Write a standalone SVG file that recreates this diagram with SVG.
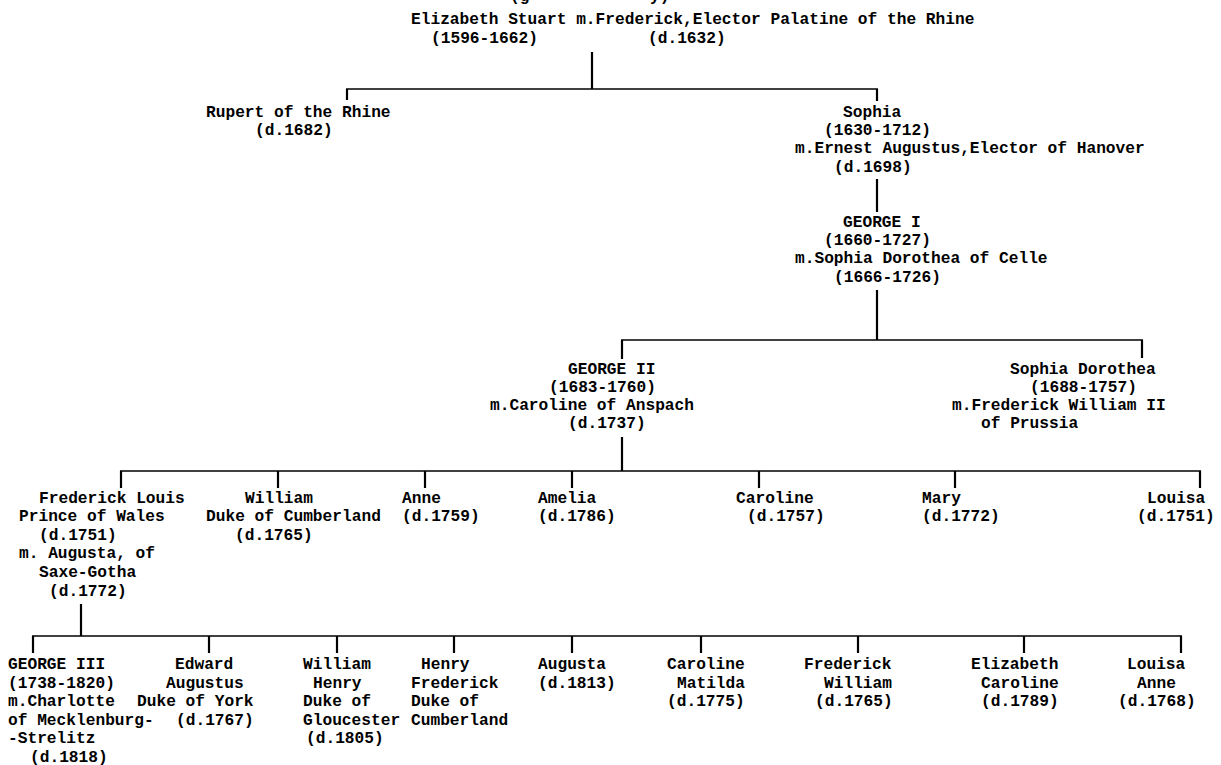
<svg xmlns="http://www.w3.org/2000/svg" width="1221" height="765" viewBox="0 0 1221 765">
<style>
text{font-family:"Liberation Mono","DejaVu Sans Mono",monospace;font-weight:bold;font-size:16.2px;fill:#000;white-space:pre}
.c line{stroke:#000;stroke-width:2.2}
.c line.h{stroke-width:1.6}
</style>
<rect width="1221" height="765" fill="#fff"/>
<g id="connectors" class="c">
<line x1="592" y1="52" x2="592" y2="89"/>
<line class="h" x1="346" y1="89" x2="878" y2="89"/>
<line x1="347" y1="89" x2="347" y2="100"/>
<line x1="877" y1="89" x2="877" y2="101"/>
<line x1="877" y1="179" x2="877" y2="212"/>
<line x1="877" y1="290" x2="877" y2="340"/>
<line class="h" x1="621" y1="340" x2="1143" y2="340"/>
<line x1="622" y1="340" x2="622" y2="359"/>
<line x1="1142" y1="340" x2="1142" y2="358"/>
<line x1="622" y1="437" x2="622" y2="471"/>
<line class="h" x1="120" y1="471" x2="1201" y2="471"/>
<line x1="121" y1="471" x2="121" y2="488"/>
<line x1="278" y1="471" x2="278" y2="488"/>
<line x1="425" y1="471" x2="425" y2="488"/>
<line x1="572" y1="471" x2="572" y2="488"/>
<line x1="759" y1="471" x2="759" y2="488"/>
<line x1="955" y1="471" x2="955" y2="488"/>
<line x1="1200" y1="471" x2="1200" y2="488"/>
<line x1="81" y1="604" x2="81" y2="636"/>
<line class="h" x1="32" y1="636" x2="1182" y2="636"/>
<line x1="33" y1="636" x2="33" y2="653"/>
<line x1="209" y1="636" x2="209" y2="653"/>
<line x1="337" y1="636" x2="337" y2="653"/>
<line x1="454" y1="636" x2="454" y2="653"/>
<line x1="572" y1="636" x2="572" y2="653"/>
<line x1="701" y1="636" x2="701" y2="653"/>
<line x1="858" y1="636" x2="858" y2="653"/>
<line x1="1024" y1="636" x2="1024" y2="653"/>
<line x1="1181" y1="636" x2="1181" y2="653"/>
</g>
<g id="top-fragment">
<text x="510" y="1">(g</text>
<text x="650" y="1">y)</text>
</g>
<g id="elizabeth">
<text x="411" y="24">Elizabeth Stuart m.Frederick,Elector Palatine of the Rhine</text>
<text x="431" y="43">(1596-1662)</text>
<text x="648" y="43">(d.1632)</text>
</g>
<g id="rupert">
<text x="206" y="117">Rupert of the Rhine</text>
<text x="255" y="135">(d.1682)</text>
</g>
<g id="sophia">
<text x="843" y="117">Sophia</text>
<text x="824" y="135">(1630-1712)</text>
<text x="795" y="153">m.Ernest Augustus,Elector of Hanover</text>
<text x="834" y="172">(d.1698)</text>
</g>
<g id="george1">
<text x="843" y="227">GEORGE I</text>
<text x="824" y="245">(1660-1727)</text>
<text x="795" y="263">m.Sophia Dorothea of Celle</text>
<text x="834" y="282">(1666-1726)</text>
</g>
<g id="george2">
<text x="568" y="374">GEORGE II</text>
<text x="549" y="392">(1683-1760)</text>
<text x="490" y="410">m.Caroline of Anspach</text>
<text x="568" y="428">(d.1737)</text>
</g>
<g id="sophia-dorothea">
<text x="1010" y="374">Sophia Dorothea</text>
<text x="1030" y="392">(1688-1757)</text>
<text x="952" y="410">m.Frederick William II</text>
<text x="981" y="428">of Prussia</text>
</g>
<g id="frederick-louis">
<text x="39" y="503">Frederick Louis</text>
<text x="19" y="521">Prince of Wales</text>
<text x="39" y="540">(d.1751)</text>
<text x="19" y="558">m. Augusta, of</text>
<text x="39" y="577">Saxe-Gotha</text>
<text x="49" y="596">(d.1772)</text>
</g>
<g id="william-cumberland">
<text x="245" y="503">William</text>
<text x="206" y="521">Duke of Cumberland</text>
<text x="235" y="540">(d.1765)</text>
</g>
<g id="anne">
<text x="402" y="503">Anne</text>
<text x="402" y="521">(d.1759)</text>
</g>
<g id="amelia">
<text x="538" y="503">Amelia</text>
<text x="538" y="521">(d.1786)</text>
</g>
<g id="caroline">
<text x="736" y="503">Caroline</text>
<text x="747" y="521">(d.1757)</text>
</g>
<g id="mary">
<text x="922" y="503">Mary</text>
<text x="922" y="521">(d.1772)</text>
</g>
<g id="louisa">
<text x="1147" y="503">Louisa</text>
<text x="1137" y="521">(d.1751)</text>
</g>
<g id="george3">
<text x="8" y="669">GEORGE III</text>
<text x="8" y="688">(1738-1820)</text>
<text x="8" y="706">m.Charlotte</text>
<text x="8" y="725">of Mecklenburg-</text>
<text x="8" y="743">-Strelitz</text>
<text x="30" y="762">(d.1818)</text>
</g>
<g id="edward">
<text x="175" y="669">Edward</text>
<text x="166" y="688">Augustus</text>
<text x="137" y="706">Duke of York</text>
<text x="176" y="725">(d.1767)</text>
</g>
<g id="william-henry">
<text x="303" y="669">William</text>
<text x="313" y="688">Henry</text>
<text x="303" y="706">Duke of</text>
<text x="303" y="725">Gloucester</text>
<text x="306" y="743">(d.1805)</text>
</g>
<g id="henry-frederick">
<text x="421" y="669">Henry</text>
<text x="411" y="688">Frederick</text>
<text x="411" y="706">Duke of</text>
<text x="411" y="725">Cumberland</text>
</g>
<g id="augusta">
<text x="538" y="669">Augusta</text>
<text x="538" y="688">(d.1813)</text>
</g>
<g id="caroline-matilda">
<text x="667" y="669">Caroline</text>
<text x="677" y="688">Matilda</text>
<text x="667" y="706">(d.1775)</text>
</g>
<g id="frederick-william">
<text x="804" y="669">Frederick</text>
<text x="824" y="688">William</text>
<text x="815" y="706">(d.1765)</text>
</g>
<g id="elizabeth-caroline">
<text x="971" y="669">Elizabeth</text>
<text x="981" y="688">Caroline</text>
<text x="981" y="706">(d.1789)</text>
</g>
<g id="louisa-anne">
<text x="1127" y="669">Louisa</text>
<text x="1137" y="688">Anne</text>
<text x="1118" y="706">(d.1768)</text>
</g>
</svg>
